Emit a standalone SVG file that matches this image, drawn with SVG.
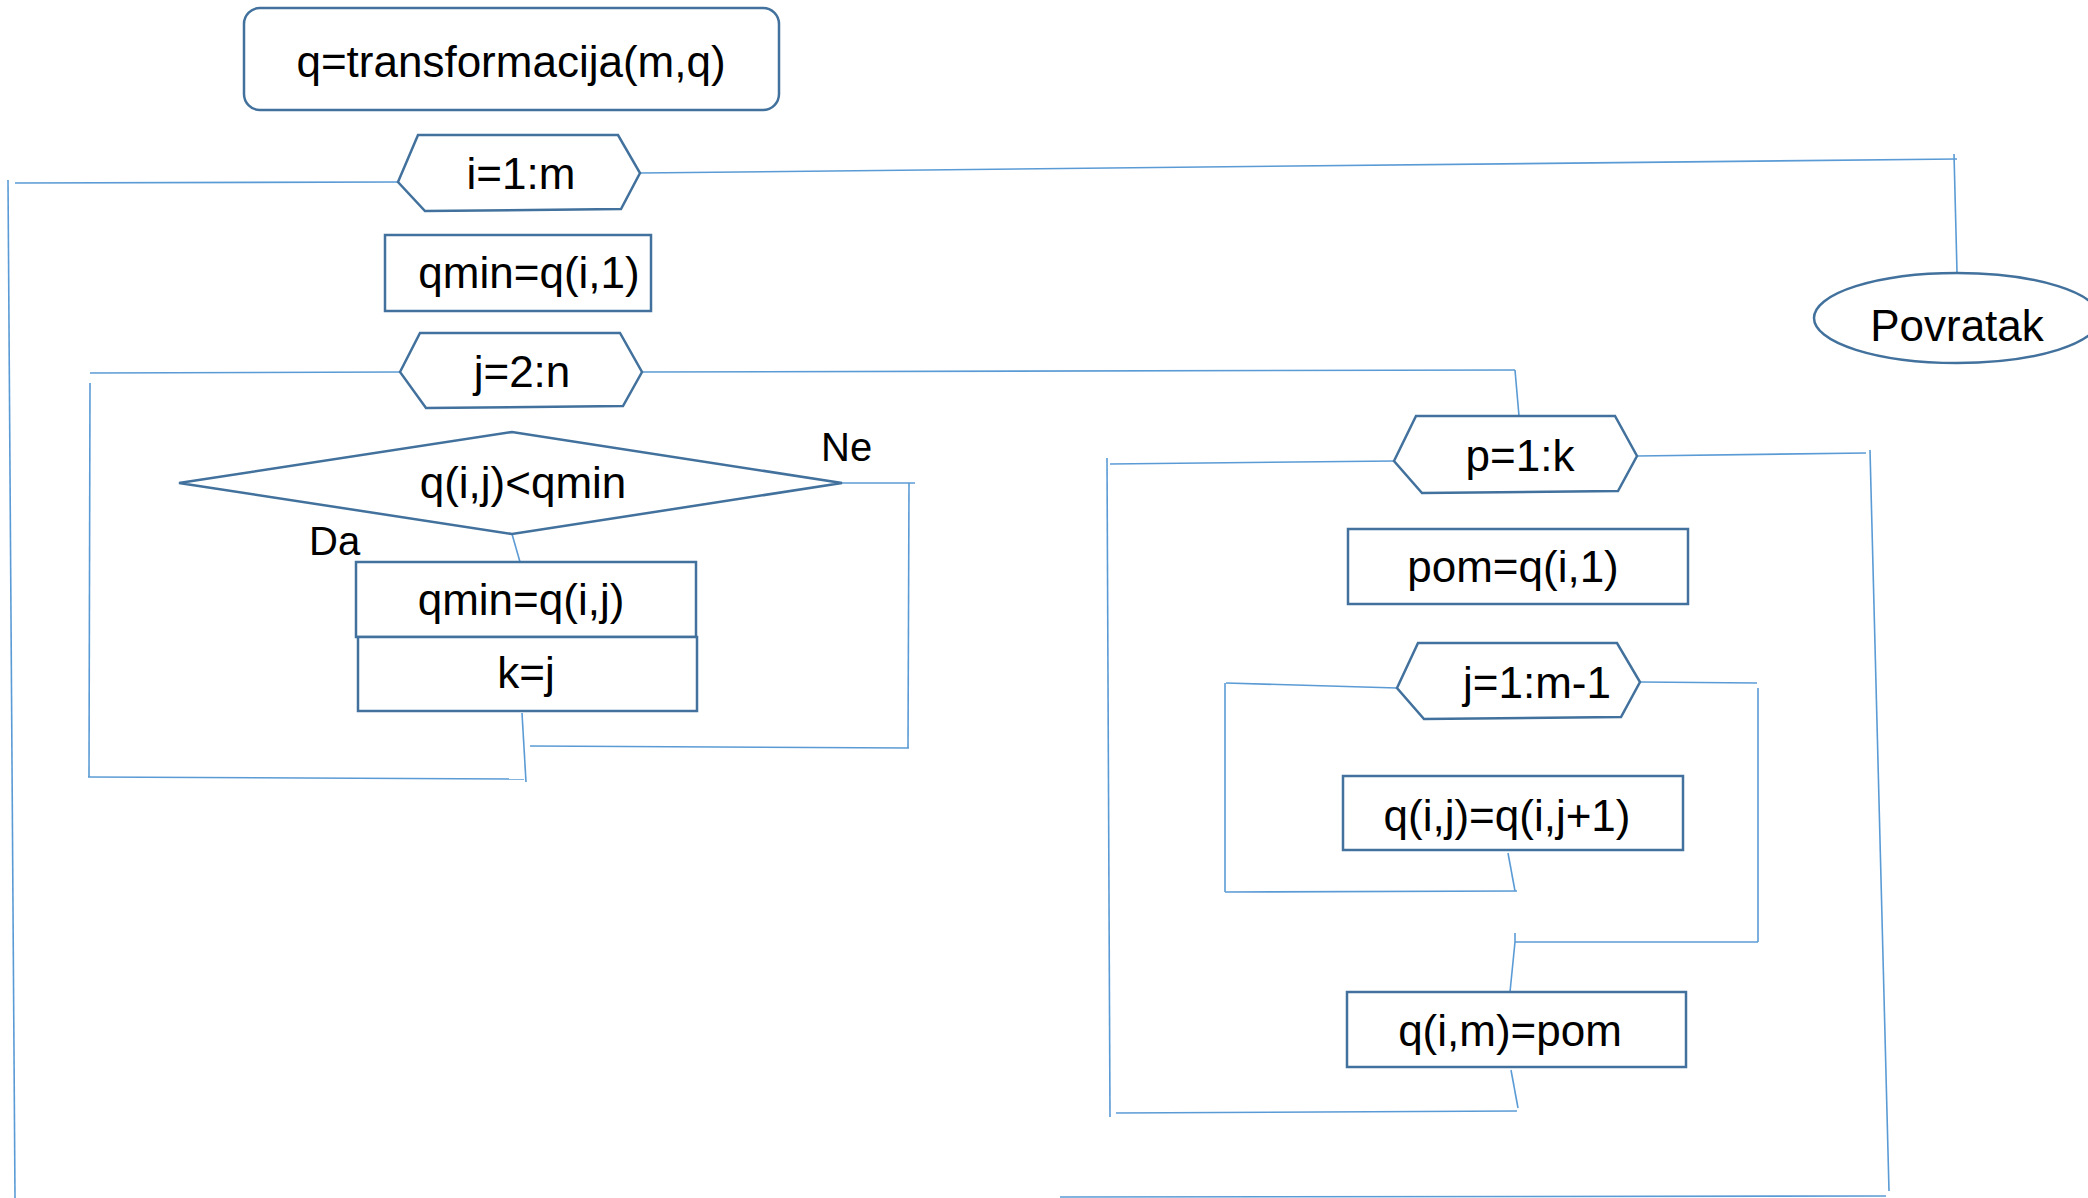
<svg xmlns="http://www.w3.org/2000/svg" width="2088" height="1198" viewBox="0 0 2088 1198">
<style>
.n{fill:#fff;stroke:#41719C;stroke-width:2.5}
.c line{stroke:#5B9BD5;stroke-width:1.6;fill:none}
text{font-family:"Liberation Sans",Arial,sans-serif;font-size:44px;fill:#000;text-anchor:middle}
.lb{font-size:40px;text-anchor:start}
</style>
<rect width="2088" height="1198" fill="#fff"/>
<g id="connectors" class="c">
<line x1="398" y1="182" x2="15" y2="183"/>
<line x1="8" y1="180" x2="15" y2="1198"/>
<line x1="640" y1="173" x2="1957" y2="159"/>
<line x1="1954" y1="154" x2="1957" y2="272"/>
<line x1="400" y1="372" x2="90" y2="373"/>
<line x1="90" y1="383" x2="89" y2="777"/>
<line x1="88" y1="777" x2="524" y2="779"/>
<line x1="522" y1="713" x2="526" y2="782"/>
<line x1="842" y1="483" x2="915" y2="483"/>
<line x1="909" y1="483" x2="908" y2="748"/>
<line x1="909" y1="748" x2="530" y2="746"/>
<line x1="512" y1="534" x2="520" y2="562"/>
<line x1="642" y1="372" x2="1515" y2="370"/>
<line x1="1515" y1="370" x2="1519" y2="416"/>
<line x1="1394" y1="461" x2="1110" y2="464"/>
<line x1="1107" y1="458" x2="1110" y2="1117"/>
<line x1="1116" y1="1113" x2="1517" y2="1111"/>
<line x1="1511" y1="1070" x2="1518" y2="1108"/>
<line x1="1637" y1="456" x2="1866" y2="453"/>
<line x1="1870" y1="450" x2="1889" y2="1191"/>
<line x1="1886" y1="1196" x2="1060" y2="1197"/>
<line x1="1397" y1="688" x2="1226" y2="683"/>
<line x1="1225" y1="683" x2="1225" y2="892"/>
<line x1="1225" y1="892" x2="1517" y2="891"/>
<line x1="1508" y1="853" x2="1515" y2="891"/>
<line x1="1640" y1="682" x2="1757" y2="683"/>
<line x1="1758" y1="688" x2="1758" y2="942"/>
<line x1="1758" y1="942" x2="1515" y2="942"/>
<line x1="1515" y1="933" x2="1515" y2="942"/>
<line x1="1515" y1="942" x2="1510" y2="992"/>
</g>
<g id="title"><rect class="n" x="244" y="8" width="535" height="102" rx="16"/><text x="511" y="77">q=transformacija(m,q)</text></g>
<g id="loop_i"><polygon class="n" points="398,182 418,135 618,135 640,173 621,209 425,211"/><text x="521" y="189">i=1:m</text></g>
<g id="qmin_init"><rect class="n" x="385" y="235" width="266" height="76"/><text x="529" y="288">qmin=q(i,1)</text></g>
<g id="loop_j"><polygon class="n" points="400,372 420,333 620,333 642,372 623,406 426,408"/><text x="522" y="387">j=2:n</text></g>
<g id="cond"><polygon class="n" points="179,483 512,432 842,483 512,534"/><text x="523" y="498">q(i,j)&lt;qmin</text></g>
<g id="label_ne"><text class="lb" x="821" y="461">Ne</text></g>
<g id="label_da"><text class="lb" x="309" y="555">Da</text></g>
<g id="qmin_set"><rect class="n" x="356" y="562" width="340" height="75"/><text x="521" y="615">qmin=q(i,j)</text></g>
<g id="k_set"><rect class="n" x="358" y="637" width="339" height="74"/><text x="526" y="688">k=j</text></g>
<g id="povratak"><ellipse class="n" cx="1957" cy="318" rx="143" ry="45"/><text x="1957" y="341">Povratak</text></g>
<g id="loop_p"><polygon class="n" points="1394,461 1416,416 1615,416 1637,456 1618,491 1422,493"/><text x="1520" y="471">p=1:k</text></g>
<g id="pom_set"><rect class="n" x="1348" y="529" width="340" height="75"/><text x="1513" y="582">pom=q(i,1)</text></g>
<g id="loop_j2"><polygon class="n" points="1397,688 1418,643 1617,643 1640,682 1621,717 1424,719"/><text x="1537" y="698">j=1:m-1</text></g>
<g id="shift"><rect class="n" x="1343" y="776" width="340" height="74"/><text x="1507" y="831">q(i,j)=q(i,j+1)</text></g>
<g id="last_set"><rect class="n" x="1347" y="992" width="339" height="75"/><text x="1510" y="1046">q(i,m)=pom</text></g>
</svg>
